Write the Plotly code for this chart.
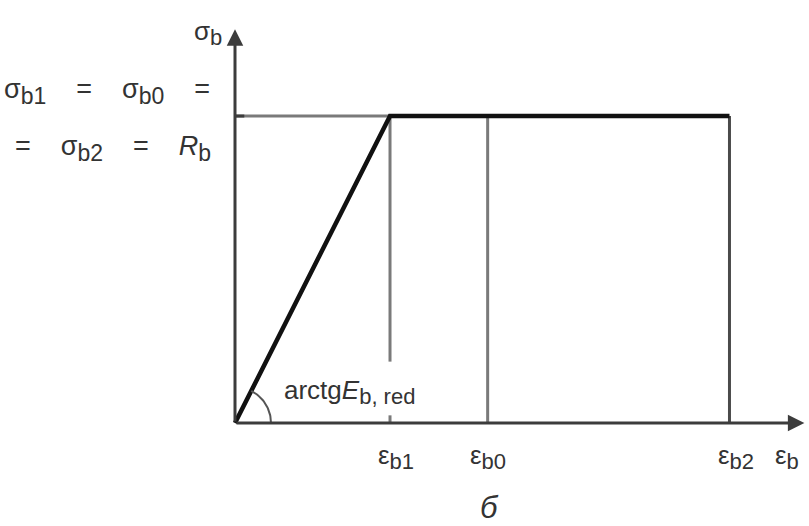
import numpy as np
import plotly.graph_objects as go

# Bilinear stress-strain diagram for concrete (relative units)
strain_names = ["ε", "ε", "ε"]
strain_subs = ["b1", "b0", "b2"]
strain_values = [1.0, 1.63, 3.19]
stress_Rb = 1.0

eps_b1, eps_b0, eps_b2 = strain_values

X_MIN, X_MAX = -1.516, 3.703
Y_MIN, Y_MAX = -0.3355, 1.378

fig = go.Figure()

INK = "#111111"
GREY = "#7a7a7a"
AXIS = "#3c3c3c"
TEXT = "#333333"
FONT = "Liberation Sans, Arial, sans-serif"


def sub(s, px=20):
    return f"<sub><span style='font-size:{px}px'>{s}</span></sub>"


# thin reference lines
fig.add_trace(go.Scatter(x=[0, eps_b1], y=[stress_Rb, stress_Rb], mode="lines",
                         line=dict(color=GREY, width=3), hoverinfo="skip"))
fig.add_trace(go.Scatter(x=[eps_b1, eps_b1], y=[stress_Rb, 0.2], mode="lines",
                         line=dict(color=GREY, width=3), hoverinfo="skip"))
fig.add_trace(go.Scatter(x=[eps_b1, eps_b1], y=[0.0, 0.025], mode="lines",
                         line=dict(color=GREY, width=3), hoverinfo="skip"))
fig.add_trace(go.Scatter(x=[eps_b0, eps_b0], y=[stress_Rb, 0], mode="lines",
                         line=dict(color=GREY, width=3), hoverinfo="skip"))
fig.add_trace(go.Scatter(x=[eps_b2, eps_b2], y=[stress_Rb, 0], mode="lines",
                         line=dict(color="#4a4a4a", width=3), hoverinfo="skip"))

# diagram itself
fig.add_trace(go.Scatter(x=[0, eps_b1, eps_b2], y=[0, stress_Rb, stress_Rb], mode="lines",
                         line=dict(color=INK, width=4.5), hoverinfo="skip"))

# angle arc at the origin
px_x = 155.0  # px per strain unit
px_y = 307.0  # px per stress unit
ang = np.arctan2(stress_Rb * px_y, eps_b1 * px_x)
t = np.linspace(0, ang, 30)
r_px = 36
fig.add_trace(go.Scatter(x=r_px * np.cos(t) / px_x, y=r_px * np.sin(t) / px_y, mode="lines",
                         line=dict(color="#555555", width=2), hoverinfo="skip"))

# axes with arrows
fig.add_annotation(x=X_MAX - 0.03, y=0, ax=0, ay=0, xref="x", yref="y", axref="x", ayref="y",
                   showarrow=True, arrowhead=2, arrowsize=1.1, arrowwidth=3, arrowcolor=AXIS, text="")
fig.add_annotation(x=0, y=Y_MAX - 0.095, ax=0, ay=0, xref="x", yref="y", axref="x", ayref="y",
                   showarrow=True, arrowhead=2, arrowsize=1.1, arrowwidth=3, arrowcolor=AXIS, text="")
# tick on stress axis
fig.add_trace(go.Scatter(x=[0, 0.06], y=[stress_Rb, stress_Rb], mode="lines",
                         line=dict(color=AXIS, width=3), hoverinfo="skip"))


def label(x, y, text, size=26, xanchor="center", yanchor="middle", **kw):
    fig.add_annotation(x=x, y=y, xref="x", yref="y", text=text, showarrow=False,
                       xanchor=xanchor, yanchor=yanchor,
                       font=dict(family=FONT, size=size, color=TEXT), **kw)


label_y = -0.11
label_dx = [0.04, 0.0, 0.04]
for name, s, val, dx in zip(strain_names, strain_subs, strain_values, label_dx):
    label(val + dx, label_y, name + sub(s, 22))
label(3.47, label_y, "ε" + sub("b", 22), xanchor="left")

label(-0.07, 1.27, "σ" + sub("b", 22), xanchor="right")
sp = "&nbsp;" * 4
label(-1.5, 1.08, f"σ{sub('b1', 23)}{sp}={sp}σ{sub('b0', 23)}{sp}=", xanchor="left", size=27)
label(-1.43, 0.895, f"={sp}σ{sub('b2', 23)}{sp}={sp}<i>R</i>{sub('b', 23)}", xanchor="left", size=27)

label(0.3, 0.1, "arctg<i>E</i>" + sub("b, red", 22), xanchor="left", size=26)
label(eps_b0 + 0.01, -0.275, "<i>б</i>", size=31)

fig.update_layout(
    width=809, height=526,
    margin=dict(l=0, r=0, t=0, b=0),
    paper_bgcolor="white", plot_bgcolor="white",
    showlegend=False,
    xaxis=dict(range=[X_MIN, X_MAX], visible=False, fixedrange=True),
    yaxis=dict(range=[Y_MIN, Y_MAX], visible=False, fixedrange=True),
)

fig.write_html("out.html")
